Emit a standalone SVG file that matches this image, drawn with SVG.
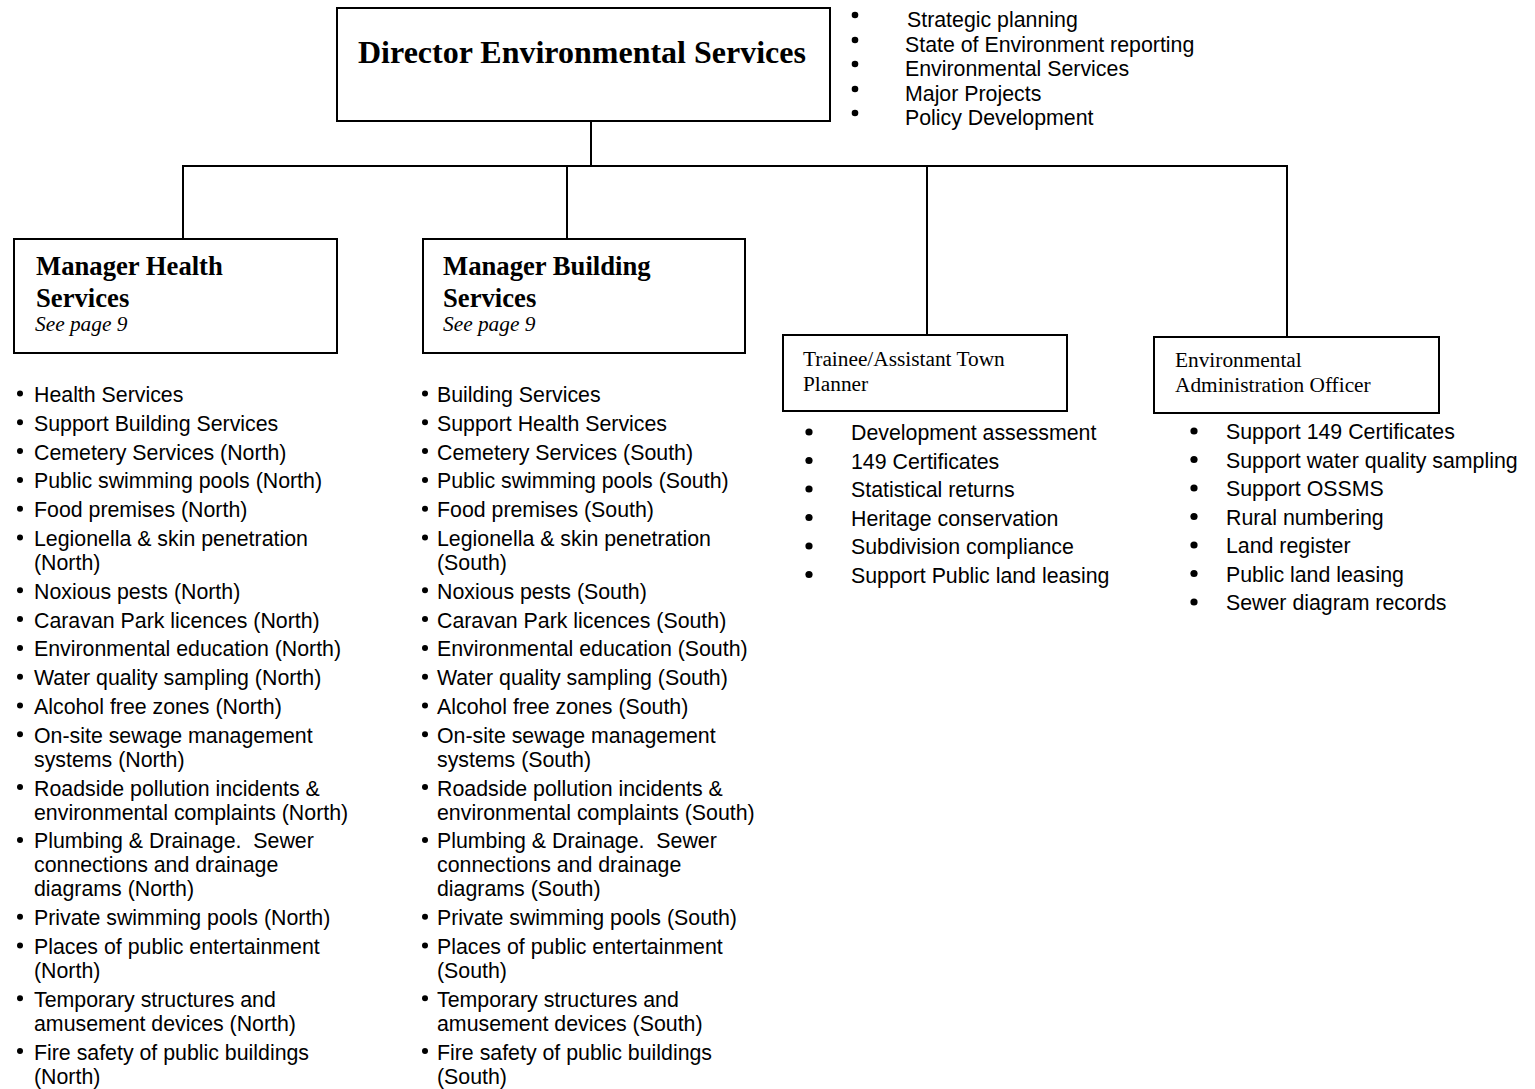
<svg xmlns="http://www.w3.org/2000/svg" width="1535" height="1089" viewBox="0 0 1535 1089">
  <style>
    .box { fill: #ffffff; stroke: #000000; stroke-width: 2; }
    .wire { fill: none; stroke: #000000; stroke-width: 2; }
    .title { font-family: "Liberation Serif", "Times New Roman", serif; font-weight: bold; fill: #000; }
    .note { font-family: "Liberation Serif", "Times New Roman", serif; font-style: italic; font-size: 21.33px; fill: #000; }
    .role { font-family: "Liberation Serif", "Times New Roman", serif; font-size: 21.33px; fill: #000; }
    .item { font-family: "Liberation Sans", Arial, sans-serif; font-size: 21.33px; fill: #000; }
    .dot { fill: #000; }
  </style>

  <rect width="1535" height="1089" fill="#ffffff"/>

  <!-- reporting lines -->
  <g id="connectors">
    <path class="wire" d="M591 121 V166"/>
    <path class="wire" d="M182 166 H1288"/>
    <path class="wire" d="M183 166 V239"/>
    <path class="wire" d="M567 166 V239"/>
    <path class="wire" d="M927 166 V335"/>
    <path class="wire" d="M1287 166 V337"/>
  </g>

  <!-- Director -->
  <g id="director">
    <rect class="box" x="337" y="8" width="493" height="113"/>
    <text class="title" x="358" y="63" font-size="32">Director Environmental Services</text>
  </g>

  <g id="director-duties">
    <g class="dot">
      <circle cx="855" cy="15" r="3.3"/>
      <circle cx="855" cy="40" r="3.3"/>
      <circle cx="855" cy="64" r="3.3"/>
      <circle cx="855" cy="89" r="3.3"/>
      <circle cx="855" cy="113" r="3.3"/>
    </g>
    <text class="item">
      <tspan x="907" y="27">Strategic planning</tspan>
      <tspan x="905" y="52">State of Environment reporting</tspan>
      <tspan x="905" y="76">Environmental Services</tspan>
      <tspan x="905" y="101">Major Projects</tspan>
      <tspan x="905" y="125">Policy Development</tspan>
    </text>
  </g>

  <!-- Manager Health Services -->
  <g id="manager-health">
    <rect class="box" x="14" y="239" width="323" height="114"/>
    <text class="title" x="36" y="275" font-size="26.67">Manager Health</text>
    <text class="title" x="36" y="307" font-size="26.67">Services</text>
    <text class="note" x="35" y="331">See page 9</text>
  </g>

  <g id="health-duties">
    <g class="dot">
      <circle cx="20" cy="393.5" r="3"/>
      <circle cx="20" cy="422.3" r="3"/>
      <circle cx="20" cy="451.1" r="3"/>
      <circle cx="20" cy="479.9" r="3"/>
      <circle cx="20" cy="508.7" r="3"/>
      <circle cx="20" cy="537.5" r="3"/>
      <circle cx="20" cy="590.3" r="3"/>
      <circle cx="20" cy="619.1" r="3"/>
      <circle cx="20" cy="647.9" r="3"/>
      <circle cx="20" cy="676.7" r="3"/>
      <circle cx="20" cy="705.5" r="3"/>
      <circle cx="20" cy="734.3" r="3"/>
      <circle cx="20" cy="787.1" r="3"/>
      <circle cx="20" cy="839.9" r="3"/>
      <circle cx="20" cy="916.7" r="3"/>
      <circle cx="20" cy="945.5" r="3"/>
      <circle cx="20" cy="998.3" r="3"/>
      <circle cx="20" cy="1051.1" r="3"/>
    </g>
    <text class="item">
      <tspan x="34" y="402">Health Services</tspan>
      <tspan x="34" y="430.8">Support Building Services</tspan>
      <tspan x="34" y="459.6">Cemetery Services (North)</tspan>
      <tspan x="34" y="488.4">Public swimming pools (North)</tspan>
      <tspan x="34" y="517.2">Food premises (North)</tspan>
      <tspan x="34" y="546">Legionella &amp; skin penetration</tspan>
      <tspan x="34" y="570">(North)</tspan>
      <tspan x="34" y="598.8">Noxious pests (North)</tspan>
      <tspan x="34" y="627.6">Caravan Park licences (North)</tspan>
      <tspan x="34" y="656.4">Environmental education (North)</tspan>
      <tspan x="34" y="685.2">Water quality sampling (North)</tspan>
      <tspan x="34" y="714">Alcohol free zones (North)</tspan>
      <tspan x="34" y="742.8">On-site sewage management</tspan>
      <tspan x="34" y="766.8">systems (North)</tspan>
      <tspan x="34" y="795.6">Roadside pollution incidents &amp;</tspan>
      <tspan x="34" y="819.6">environmental complaints (North)</tspan>
      <tspan x="34" y="848.4">Plumbing &amp; Drainage.&#160; Sewer</tspan>
      <tspan x="34" y="872.4">connections and drainage</tspan>
      <tspan x="34" y="896.4">diagrams (North)</tspan>
      <tspan x="34" y="925.2">Private swimming pools (North)</tspan>
      <tspan x="34" y="954">Places of public entertainment</tspan>
      <tspan x="34" y="978">(North)</tspan>
      <tspan x="34" y="1006.8">Temporary structures and</tspan>
      <tspan x="34" y="1030.8">amusement devices (North)</tspan>
      <tspan x="34" y="1059.6">Fire safety of public buildings</tspan>
      <tspan x="34" y="1083.6">(North)</tspan>
    </text>
  </g>

  <!-- Manager Building Services -->
  <g id="manager-building">
    <rect class="box" x="423" y="239" width="322" height="114"/>
    <text class="title" x="443" y="275" font-size="26.67">Manager Building</text>
    <text class="title" x="443" y="307" font-size="26.67">Services</text>
    <text class="note" x="443" y="331">See page 9</text>
  </g>

  <g id="building-duties">
    <g class="dot">
      <circle cx="425" cy="393.5" r="3"/>
      <circle cx="425" cy="422.3" r="3"/>
      <circle cx="425" cy="451.1" r="3"/>
      <circle cx="425" cy="479.9" r="3"/>
      <circle cx="425" cy="508.7" r="3"/>
      <circle cx="425" cy="537.5" r="3"/>
      <circle cx="425" cy="590.3" r="3"/>
      <circle cx="425" cy="619.1" r="3"/>
      <circle cx="425" cy="647.9" r="3"/>
      <circle cx="425" cy="676.7" r="3"/>
      <circle cx="425" cy="705.5" r="3"/>
      <circle cx="425" cy="734.3" r="3"/>
      <circle cx="425" cy="787.1" r="3"/>
      <circle cx="425" cy="839.9" r="3"/>
      <circle cx="425" cy="916.7" r="3"/>
      <circle cx="425" cy="945.5" r="3"/>
      <circle cx="425" cy="998.3" r="3"/>
      <circle cx="425" cy="1051.1" r="3"/>
    </g>
    <text class="item">
      <tspan x="437" y="402">Building Services</tspan>
      <tspan x="437" y="430.8">Support Health Services</tspan>
      <tspan x="437" y="459.6">Cemetery Services (South)</tspan>
      <tspan x="437" y="488.4">Public swimming pools (South)</tspan>
      <tspan x="437" y="517.2">Food premises (South)</tspan>
      <tspan x="437" y="546">Legionella &amp; skin penetration</tspan>
      <tspan x="437" y="570">(South)</tspan>
      <tspan x="437" y="598.8">Noxious pests (South)</tspan>
      <tspan x="437" y="627.6">Caravan Park licences (South)</tspan>
      <tspan x="437" y="656.4">Environmental education (South)</tspan>
      <tspan x="437" y="685.2">Water quality sampling (South)</tspan>
      <tspan x="437" y="714">Alcohol free zones (South)</tspan>
      <tspan x="437" y="742.8">On-site sewage management</tspan>
      <tspan x="437" y="766.8">systems (South)</tspan>
      <tspan x="437" y="795.6">Roadside pollution incidents &amp;</tspan>
      <tspan x="437" y="819.6">environmental complaints (South)</tspan>
      <tspan x="437" y="848.4">Plumbing &amp; Drainage.&#160; Sewer</tspan>
      <tspan x="437" y="872.4">connections and drainage</tspan>
      <tspan x="437" y="896.4">diagrams (South)</tspan>
      <tspan x="437" y="925.2">Private swimming pools (South)</tspan>
      <tspan x="437" y="954">Places of public entertainment</tspan>
      <tspan x="437" y="978">(South)</tspan>
      <tspan x="437" y="1006.8">Temporary structures and</tspan>
      <tspan x="437" y="1030.8">amusement devices (South)</tspan>
      <tspan x="437" y="1059.6">Fire safety of public buildings</tspan>
      <tspan x="437" y="1083.6">(South)</tspan>
    </text>
  </g>

  <!-- Trainee/Assistant Town Planner -->
  <g id="town-planner">
    <rect class="box" x="783" y="335" width="284" height="76"/>
    <text class="role">
      <tspan x="803" y="366">Trainee/Assistant Town</tspan>
      <tspan x="803" y="391">Planner</tspan>
    </text>
  </g>

  <g id="planner-duties">
    <g class="dot">
      <circle cx="809" cy="432" r="3.6"/>
      <circle cx="809" cy="460.5" r="3.6"/>
      <circle cx="809" cy="489" r="3.6"/>
      <circle cx="809" cy="517.5" r="3.6"/>
      <circle cx="809" cy="546" r="3.6"/>
      <circle cx="809" cy="574.5" r="3.6"/>
    </g>
    <text class="item">
      <tspan x="851" y="440">Development assessment</tspan>
      <tspan x="851" y="468.5">149 Certificates</tspan>
      <tspan x="851" y="497">Statistical returns</tspan>
      <tspan x="851" y="525.5">Heritage conservation</tspan>
      <tspan x="851" y="554">Subdivision compliance</tspan>
      <tspan x="851" y="582.5">Support Public land leasing</tspan>
    </text>
  </g>

  <!-- Environmental Administration Officer -->
  <g id="admin-officer">
    <rect class="box" x="1154" y="337" width="285" height="76"/>
    <text class="role">
      <tspan x="1175" y="367">Environmental</tspan>
      <tspan x="1175" y="392">Administration Officer</tspan>
    </text>
  </g>

  <g id="admin-duties">
    <g class="dot">
      <circle cx="1194" cy="431" r="3.6"/>
      <circle cx="1194" cy="459.5" r="3.6"/>
      <circle cx="1194" cy="488" r="3.6"/>
      <circle cx="1194" cy="516.5" r="3.6"/>
      <circle cx="1194" cy="545" r="3.6"/>
      <circle cx="1194" cy="573.5" r="3.6"/>
      <circle cx="1194" cy="602" r="3.6"/>
    </g>
    <text class="item">
      <tspan x="1226" y="439">Support 149 Certificates</tspan>
      <tspan x="1226" y="467.5">Support water quality sampling</tspan>
      <tspan x="1226" y="496">Support OSSMS</tspan>
      <tspan x="1226" y="524.5">Rural numbering</tspan>
      <tspan x="1226" y="553">Land register</tspan>
      <tspan x="1226" y="581.5">Public land leasing</tspan>
      <tspan x="1226" y="610">Sewer diagram records</tspan>
    </text>
  </g>
</svg>
